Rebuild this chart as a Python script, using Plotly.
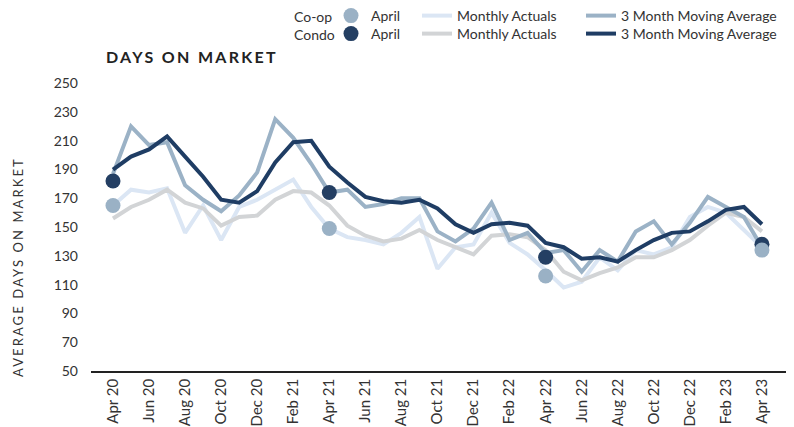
import plotly.graph_objects as go

months = ["Apr 20", "May 20", "Jun 20", "Jul 20", "Aug 20", "Sep 20", "Oct 20", "Nov 20",
          "Dec 20", "Jan 21", "Feb 21", "Mar 21", "Apr 21", "May 21", "Jun 21", "Jul 21",
          "Aug 21", "Sep 21", "Oct 21", "Nov 21", "Dec 21", "Jan 22", "Feb 22", "Mar 22",
          "Apr 22", "May 22", "Jun 22", "Jul 22", "Aug 22", "Sep 22", "Oct 22", "Nov 22",
          "Dec 22", "Jan 23", "Feb 23", "Mar 23", "Apr 23"]

coop_monthly = [165, 176, 174, 177, 146, 165, 141, 164, 169, 176, 183, 164, 149, 143, 141, 138,
                146, 157, 121, 136, 138, 160, 139, 131, 120, 108, 112, 129, 120, 134, 131, 136,
                157, 164, 160, 148, 136]
condo_monthly = [156, 164, 169, 176, 167, 163, 151, 157, 158, 169, 175, 174, 165, 151, 144, 140,
                 142, 148, 141, 136, 131, 144, 145, 143, 134, 119, 113, 118, 122, 129, 129, 134,
                 141, 151, 160, 157, 147]
coop_ma = [187, 220, 207, 209, 179, 169, 161, 172, 188, 225, 212, 194, 174, 176, 164, 166,
           170, 170, 147, 140, 149, 167, 141, 146, 132, 134, 119, 134, 126, 147, 154, 138,
           153, 171, 164, 157, 136]
condo_ma = [190, 199, 204, 213, 199, 185, 169, 167, 175, 195, 209, 210, 192, 181, 171, 168,
            167, 169, 163, 152, 146, 152, 153, 151, 139, 136, 128, 129, 126, 134, 141, 146,
            147, 154, 162, 164, 152]

april_labels = ["Apr 20", "Apr 21", "Apr 22", "Apr 23"]
coop_april = [165, 149, 116, 134]
condo_april = [182, 174, 129, 138]

tick_labels = months[::2]
y_ticks = [50, 70, 90, 110, 130, 150, 170, 190, 210, 230, 250]

C_COOP_M = "#dbe6f4"
C_CONDO_M = "#d2d4d6"
C_COOP_MA = "#9bb2c6"
C_CONDO_MA = "#1f3d64"
FONT = "Lato"
TXT = "#333333"

fig = go.Figure()
fig.add_trace(go.Scatter(x=months, y=coop_monthly, mode="lines", name="Monthly Actuals",
                         line=dict(color=C_COOP_M, width=4), legend="legend3"))
fig.add_trace(go.Scatter(x=months, y=condo_monthly, mode="lines", name="Monthly Actuals",
                         line=dict(color=C_CONDO_M, width=4), legend="legend4"))
fig.add_trace(go.Scatter(x=months, y=coop_ma, mode="lines", name="3 Month Moving Average",
                         line=dict(color=C_COOP_MA, width=4), legend="legend5"))
fig.add_trace(go.Scatter(x=months, y=condo_ma, mode="lines", name="3 Month Moving Average",
                         line=dict(color=C_CONDO_MA, width=4), legend="legend6"))
fig.add_trace(go.Scatter(x=april_labels, y=condo_april, mode="markers", name="April",
                         marker=dict(color="#243f63", size=15), legend="legend2"))
fig.add_trace(go.Scatter(x=april_labels, y=coop_april, mode="markers", name="April",
                         marker=dict(color="#9ab1c5", size=15), legend="legend"))

# screen coordinates of the plot area (page body adds an 8px offset)
OFF = 8
px0, px1, py_top, py_bot = 91, 787, 76, 371
W, H = px1 - px0, py_bot - py_top


def px(x):
    return (x - px0) / W


def py(y):
    return (py_bot - y) / H


def leg(x, y):
    return dict(orientation="v", xanchor="left", yanchor="middle", x=px(x), y=py(y),
                bgcolor="rgba(0,0,0,0)", font=dict(family=FONT, size=14, color=TXT),
                tracegroupgap=0, itemclick=False, itemdoubleclick=False)


ROW1, ROW2 = 16, 34

fig.update_layout(
    width=794, height=427,
    margin=dict(l=px0 - OFF, r=794 - px1 + OFF, t=py_top - OFF, b=427 - py_bot + OFF,
                autoexpand=False),
    paper_bgcolor="white", plot_bgcolor="white",
    font=dict(family=FONT, color=TXT),
    showlegend=True,
    legend=leg(331, ROW1), legend2=leg(331, ROW2),
    legend3=leg(417, ROW1), legend4=leg(417, ROW2),
    legend5=leg(581, ROW1), legend6=leg(581, ROW2),
    xaxis=dict(type="category", categoryorder="array", categoryarray=months,
               range=[-1.22, 37.39], tickmode="array", tickvals=tick_labels,
               ticktext=tick_labels, tickangle=-90, showgrid=False, zeroline=False,
               showline=True, linecolor="#222222", linewidth=1.5, ticks="",
               tickfont=dict(family=FONT, size=15, color=TXT), automargin=False,
               fixedrange=True),
    yaxis=dict(range=[50, 255], tickmode="array", tickvals=y_ticks, showgrid=False,
               zeroline=False, showline=False, ticks="", ticklabelstandoff=12,
               tickfont=dict(family=FONT, size=14, color=TXT), automargin=False,
               fixedrange=True),
)

fig.add_annotation(text="<span style='letter-spacing:2.3px'>DAYS ON MARKET</span>",
                   xref="paper", yref="paper", x=px(104), y=py(57), xanchor="left",
                   yanchor="middle", showarrow=False,
                   font=dict(family=FONT, size=16, color="#222222", weight="bold"))
fig.add_annotation(text="<span style='letter-spacing:2.1px'>AVERAGE DAYS ON MARKET</span>",
                   xref="paper", yref="paper", x=px(18), y=py(267), xanchor="center",
                   yanchor="middle", textangle=-90, showarrow=False,
                   font=dict(family=FONT, size=13, color=TXT))
fig.add_annotation(text="Co-op", xref="paper", yref="paper", x=px(292), y=py(ROW1),
                   xanchor="left", yanchor="middle", showarrow=False,
                   font=dict(family=FONT, size=14, color=TXT))
fig.add_annotation(text="Condo", xref="paper", yref="paper", x=px(292), y=py(ROW2),
                   xanchor="left", yanchor="middle", showarrow=False,
                   font=dict(family=FONT, size=14, color=TXT))
fig.add_shape(type="line", xref="paper", yref="paper", x0=px(0), x1=px(800),
              y0=py(0.8), y1=py(0.8), line=dict(color="#222222", width=2))

fig.write_html("out.html", config={"displayModeBar": False})
